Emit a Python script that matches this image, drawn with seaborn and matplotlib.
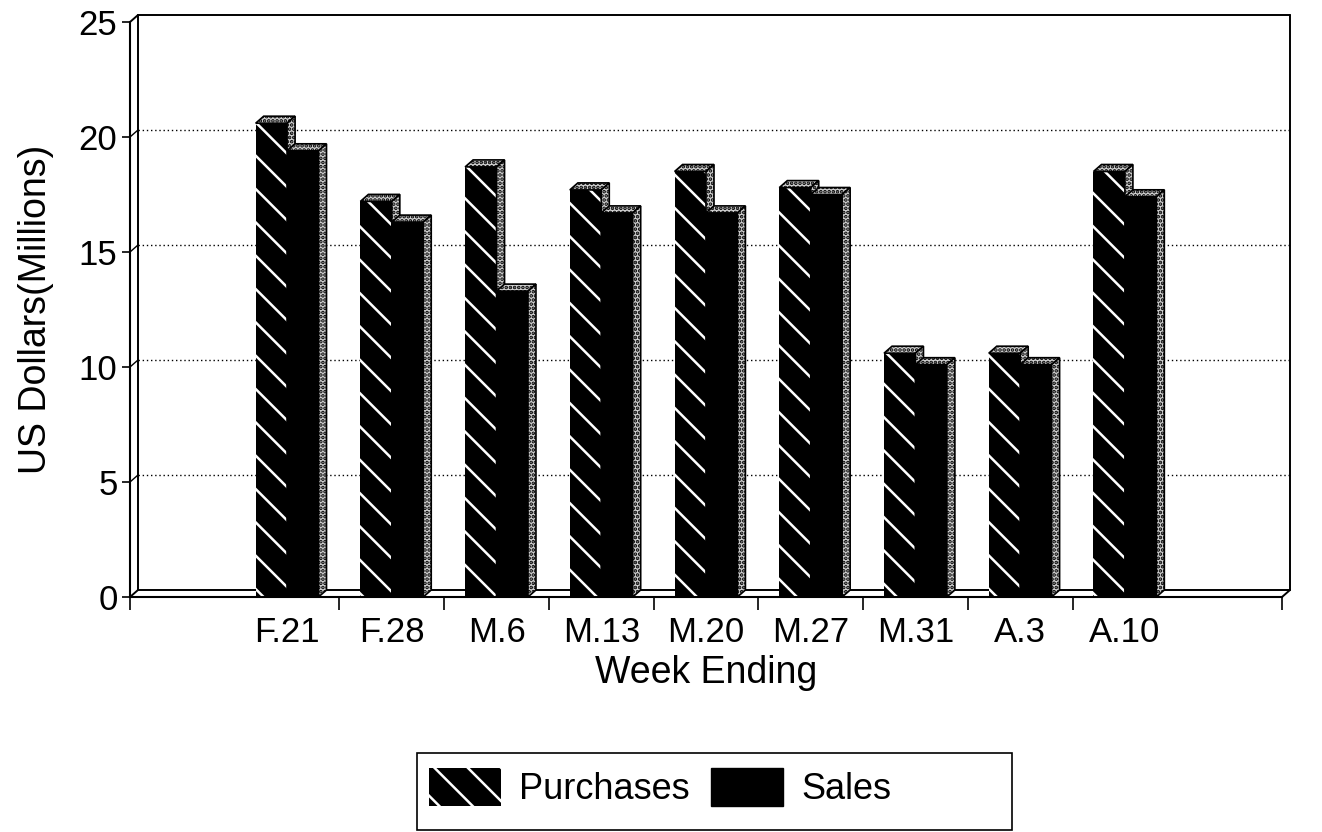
"""
Weekly purchases vs sales (US$ millions), drawn as pseudo-3D bars.
"""

import matplotlib
matplotlib.use("Agg")
import matplotlib.pyplot as plt
from matplotlib.patches import Polygon, Patch, Rectangle
from matplotlib.transforms import ScaledTranslation
import numpy as np
import pandas as pd
import seaborn as sns

# =========================
# DATA
# =========================

weeks = ["F.21", "F.28", "M.6", "M.13", "M.20", "M.27", "M.31", "A.3", "A.10"]
purchases = [20.6, 17.2, 18.7, 17.7, 18.5, 17.8, 10.6, 10.6, 18.5]
sales = [19.4, 16.3, 13.3, 16.7, 16.7, 17.5, 10.1, 10.1, 17.4]
series = ["Purchases", "Sales"]
y_ticks = [0, 5, 10, 15, 20, 25]

df = pd.DataFrame({
    "week": weeks * 2,
    "series": [series[0]] * len(weeks) + [series[1]] * len(weeks),
    "value": purchases + sales,
})

# =========================
# STYLE
# =========================

sns.set_theme(style="white")
plt.rcParams["font.family"] = ["Liberation Sans", "DejaVu Sans"]
plt.rcParams["text.color"] = "black"
plt.rcParams["axes.labelcolor"] = "black"
plt.rcParams["xtick.color"] = "black"
plt.rcParams["ytick.color"] = "black"
plt.rcParams["hatch.linewidth"] = 1.8

DPI = 100
W, H = 1322, 832
DX, DY = 8, 7          # depth of the fake 3D, in pixels
FACE = "#cfcfcf"       # stippled top / side faces

fig = plt.figure(figsize=(W / DPI, H / DPI), dpi=DPI)
fig.patch.set_facecolor("white")
ax = fig.add_axes([130 / W, 1 - 597 / H, (1282 - 130) / W, (597 - 22) / H])

sns.barplot(
    data=df, x="week", y="value", hue="series",
    order=weeks, hue_order=series,
    palette=["black", "black"], saturation=1,
    width=0.6, gap=0, legend=False, ax=ax,
)

xmin, xmax = -1.5, len(weeks) + 0.5
ax.set_xlim(xmin, xmax)
ax.set_ylim(y_ticks[0], y_ticks[-1])

# =========================
# BARS: hatch + depth faces
# =========================

inv = ax.transData.inverted()


def back(x, y):
    px, py = ax.transData.transform((x, y))
    return tuple(inv.transform((px + DX, py + DY)))


for k, container in enumerate(ax.containers):
    base_z = 2 + k
    for bar in container:
        if k == 0:
            bar.set_edgecolor("white")
            bar.set_linewidth(0)
            bar.set_hatch("\\")
        else:
            bar.set_edgecolor("black")
            bar.set_linewidth(1)
        bar.set_zorder(base_z)
        x0 = bar.get_x()
        x1 = x0 + bar.get_width()
        h = bar.get_height()
        top = [(x0, h), (x1, h), back(x1, h), back(x0, h)]
        side = [(x1, 0), (x1, h), back(x1, h), back(x1, 0)]
        for pts in (top, side):
            ax.add_patch(Polygon(
                pts, closed=True, facecolor=FACE, edgecolor="black",
                linewidth=1.2, hatch="....", zorder=base_z + 0.5,
            ))

# =========================
# BACK WALL, FLOOR, GRID
# =========================

wall = ax.transData + ScaledTranslation(DX / DPI, DY / DPI, fig.dpi_scale_trans)
line_kw = dict(color="black", linewidth=1.4, clip_on=False, zorder=1)

ax.plot([xmin, xmax], [y_ticks[-1]] * 2, transform=wall, **line_kw)
ax.plot([xmin, xmax], [y_ticks[0]] * 2, transform=wall, **line_kw)
ax.plot([xmin, xmin], [y_ticks[0], y_ticks[-1]], transform=wall, **line_kw)
ax.plot([xmax, xmax], [y_ticks[0], y_ticks[-1]], transform=wall, **line_kw)
for xc, yc in [(xmin, y_ticks[0]), (xmax, y_ticks[0]), (xmin, y_ticks[-1])]:
    bx, by = back(xc, yc)
    ax.plot([xc, bx], [yc, by], **line_kw)

for v in y_ticks[1:-1]:
    ax.plot([xmin, xmax], [v, v], transform=wall, color="black",
            linewidth=1, linestyle=(0, (1, 2)), clip_on=False, zorder=1)
    bx, by = back(xmin, v)
    ax.plot([xmin, bx], [v, by], color="black", linewidth=1, zorder=1)

# =========================
# AXES
# =========================

for side_name in ["top", "right"]:
    ax.spines[side_name].set_visible(False)
for side_name in ["left", "bottom"]:
    ax.spines[side_name].set_color("black")
    ax.spines[side_name].set_linewidth(1.5)

ax.set_yticks(y_ticks)
ax.tick_params(axis="y", direction="out", length=6, width=1.2,
               labelsize=25, pad=3, left=True)

ax.set_xticks(range(len(weeks)))
ax.set_xticklabels(weeks)
boundaries = [xmin] + [i + 0.5 for i in range(len(weeks) - 1)] + [xmax]
ax.set_xticks(boundaries, minor=True)
ax.tick_params(axis="x", which="major", length=0, labelsize=25, pad=14)
ax.tick_params(axis="x", which="minor", direction="out", length=9, width=1.2,
               bottom=True)

ax.set_xlabel("Week Ending", fontsize=27, labelpad=4)
ax.set_ylabel("US Dollars(Millions)", fontsize=27, labelpad=18)
ax.grid(False)

# =========================
# LEGEND
# =========================

handles = [
    Patch(facecolor="black", edgecolor="white", linewidth=0, hatch="\\"),
    Patch(facecolor="black", edgecolor="black"),
]
leg = fig.legend(
    handles, series, loc="upper center", bbox_to_anchor=(660 / W, 1 - 768 / H),
    ncol=2, frameon=False, borderaxespad=0,
    fontsize=26, borderpad=0, handlelength=2.0, handleheight=1.26,
    handletextpad=0.5, columnspacing=0.6,
)

# the legend box in the original is wider than its entries
fig.canvas.draw()
ext = leg.get_window_extent()
box_left = ext.x0 - 12
box_right = 1012
box_top = H - 753
box_bottom = 2
fig.add_artist(Rectangle(
    (box_left / W, box_bottom / H), (box_right - box_left) / W,
    (box_top - box_bottom) / H, transform=fig.transFigure,
    fill=False, edgecolor="black", linewidth=1.2,
))

fig.savefig("out.png", dpi=DPI, facecolor="white")
